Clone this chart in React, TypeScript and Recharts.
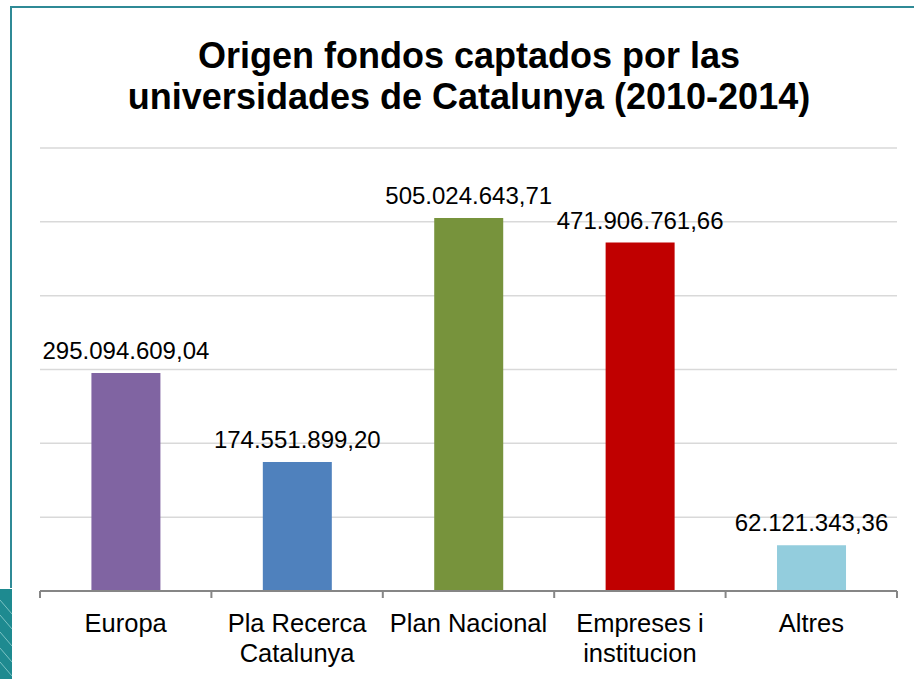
import React from "react";
import { BarChart, Bar, XAxis, YAxis, CartesianGrid, LabelList, Cell } from "recharts";

const categories = ["Europa", "Pla Recerca Catalunya", "Plan Nacional", "Empreses i institucion", "Altres"];
const tickLabelLines = [["Europa"], ["Pla Recerca", "Catalunya"], ["Plan Nacional"], ["Empreses i", "institucion"], ["Altres"]];
const values = [295094609.04, 174551899.2, 505024643.71, 471906761.66, 62121343.36];
const barColors = ["#8064A2", "#4F81BD", "#77933C", "#C00000", "#93CDDD"];
const yTicks = [0, 100000000, 200000000, 300000000, 400000000, 500000000, 600000000];
const titleLines = ["Origen fondos captados por las", "universidades de Catalunya (2010-2014)"];

const data = categories.map((c, i) => ({ name: c, value: values[i], lines: tickLabelLines[i] }));

const CHART_W = 914;
const CHART_H = 679;
const MARGIN = { top: 148, right: 17, left: 40, bottom: 0 };
const BAND = (CHART_W - MARGIN.left - MARGIN.right) / categories.length;
const FONT = '"Liberation Sans", Arial, Helvetica, sans-serif';
const FRAME = "#2F8A96";

function fmt(v: number): string {
  const [i, d] = Number(v).toFixed(2).split(".");
  return i.replace(/\B(?=(\d{3})+(?!\d))/g, ".") + "," + d;
}

function CatTick(props: any) {
  const { x, y, payload, index } = props;
  const lines: string[] = tickLabelLines[index] || [String(payload.value)];
  const last = index === categories.length - 1;
  return (
    <g>
      <line x1={x - BAND / 2} x2={x - BAND / 2} y1={y} y2={y + 7} stroke="#868686" strokeWidth={2} />
      {last && <line x1={x + BAND / 2} x2={x + BAND / 2} y1={y} y2={y + 7} stroke="#868686" strokeWidth={2} />}
      <text textAnchor="middle" fill="#000" fontSize={25.5} fontFamily={FONT}>
        {lines.map((l, k) => (
          <tspan key={k} x={x} y={y + 41 + k * 29.5}>
            {l}
          </tspan>
        ))}
      </text>
    </g>
  );
}

export default function App() {
  return (
    <div style={{ position: "absolute", left: 0, top: 0, width: CHART_W, height: CHART_H, background: "#fff", overflow: "hidden" }}>
      <BarChart width={CHART_W} height={CHART_H} data={data} margin={MARGIN} barCategoryGap="30%">
        <CartesianGrid vertical={false} stroke="#D9D9D9" strokeWidth={1.5} />
        <YAxis hide domain={[0, 600000000]} ticks={yTicks} />
        <XAxis
          dataKey="name"
          height={88}
          axisLine={{ stroke: "#868686", strokeWidth: 2 }}
          tickLine={false}
          tickSize={0}
          tickMargin={0}
          interval={0}
          tick={<CatTick />}
        />
        <Bar dataKey="value" isAnimationActive={false}>
          {data.map((d, i) => (
            <Cell key={d.name} fill={barColors[i]} />
          ))}
          <LabelList dataKey="value" position="top" offset={14} formatter={fmt as any} fill="#000" fontSize={24} fontFamily={FONT} />
        </Bar>
      </BarChart>
      <svg width={CHART_W} height={CHART_H} style={{ position: "absolute", left: 0, top: 0, pointerEvents: "none" }}>
        <line x1={10} x2={CHART_W} y1={7} y2={7} stroke={FRAME} strokeWidth={2} />
        <line x1={11} x2={11} y1={6} y2={588} stroke={FRAME} strokeWidth={2} />
        <rect x={0} y={589} width={12} height={90} fill="#1E8A90" />
        {[600, 615, 632, 648, 662].map((yy, k) => (
          <line key={k} x1={0} y1={yy} x2={12} y2={yy + 14} stroke="#7CC3C4" strokeWidth={1} />
        ))}
        <text textAnchor="middle" fontFamily={FONT} fontWeight="bold" fontSize={36} fill="#000">
          <tspan x={469} y={68}>{titleLines[0]}</tspan>
          <tspan x={469} y={109}>{titleLines[1]}</tspan>
        </text>
      </svg>
    </div>
  );
}
